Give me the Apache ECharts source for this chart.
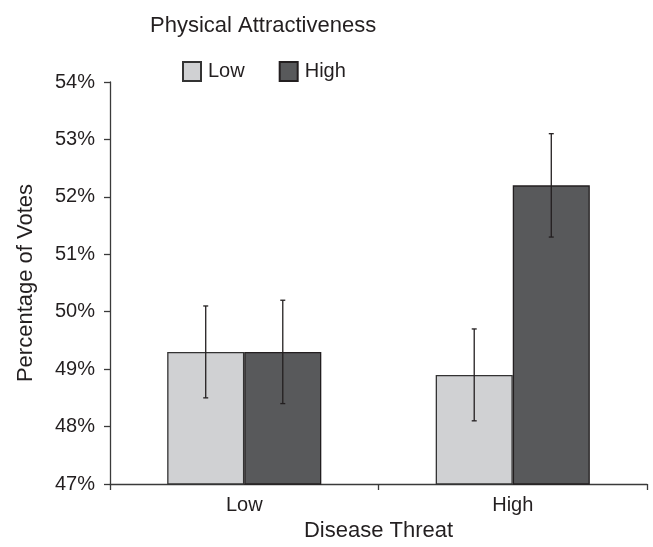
<!DOCTYPE html>
<html>
<head>
<meta charset="utf-8">
<script src="https://cdn.jsdelivr.net/npm/echarts@6/dist/echarts.min.js"></script>
<style>html,body{margin:0;padding:0;background:#fff}#c{width:653px;height:547px}</style>
</head>
<body>
<div id="c"></div>
<script>
var categories = ['Low', 'High'];
var seriesNames = ['Low', 'High'];
var lowValues = [49.3, 48.9];
var highValues = [49.3, 52.2];
var lowErrors = [0.8, 0.8];
var highErrors = [0.9, 0.9];
var yTicks = [47, 48, 49, 50, 51, 52, 53, 54];

var FONT = '"Liberation Sans Narrow", "Liberation Sans", Arial, sans-serif';
var TXT = '#231f20';
var BAR_W = 0.287;

function errData(vals, errs) {
  return vals.map(function (v, i) { return [i, v - errs[i], v + errs[i]]; });
}
function errSeries(vals, errs, side) {
  return {
    type: 'custom',
    silent: true,
    z: 10,
    data: errData(vals, errs),
    encode: { x: 0, y: [1, 2] },
    renderItem: function (params, api) {
      var i = api.value(0);
      var lo = api.coord([i, api.value(1)]);
      var hi = api.coord([i, api.value(2)]);
      var band = api.size([1, 0])[0];
      var x = lo[0] + side * band * BAR_W / 2;
      var cap = 2.5;
      var st = { stroke: TXT, lineWidth: 1.3 };
      return {
        type: 'group',
        children: [
          { type: 'line', shape: { x1: x, y1: lo[1], x2: x, y2: hi[1] }, style: st },
          { type: 'line', shape: { x1: x - cap, y1: lo[1], x2: x + cap, y2: lo[1] }, style: st },
          { type: 'line', shape: { x1: x - cap, y1: hi[1], x2: x + cap, y2: hi[1] }, style: st }
        ]
      };
    }
  };
}

var chart = echarts.init(document.getElementById('c'), null, { renderer: 'canvas' });
chart.setOption({
  animation: false,
  textStyle: { fontFamily: FONT, color: TXT },
  title: {
    text: 'Physical Attractiveness',
    left: 145, top: 10,
    textStyle: { fontFamily: FONT, fontSize: 22, fontWeight: 'normal', color: TXT }
  },
  legend: {
    data: seriesNames,
    left: 182, top: 61, padding: 0,
    itemWidth: 18, itemHeight: 19, itemGap: 34,
    icon: 'rect',
    textStyle: { fontFamily: FONT, fontSize: 20, color: TXT, padding: [0, 0, 0, 2] }
  },
  grid: { left: 110, right: 6, top: 82, bottom: 59, containLabel: false },
  xAxis: {
    type: 'category',
    data: categories,
    name: 'Disease Threat',
    nameLocation: 'middle',
    nameGap: 36,
    nameTextStyle: { fontFamily: FONT, fontSize: 22, color: TXT },
    axisLine: { lineStyle: { color: '#3a3a3a', width: 1.3 } },
    axisTick: { show: true, length: 6, lineStyle: { color: '#3a3a3a', width: 1.3 } },
    axisLabel: { fontFamily: FONT, fontSize: 20, color: TXT, margin: 11 }
  },
  yAxis: {
    type: 'value',
    min: 47, max: 54, interval: 1,
    name: 'Percentage of Votes',
    nameLocation: 'middle',
    nameGap: 73,
    nameTextStyle: { fontFamily: FONT, fontSize: 22, color: TXT },
    axisLine: { show: true, lineStyle: { color: '#3a3a3a', width: 1.3 } },
    axisTick: { show: true, length: 6, lineStyle: { color: '#3a3a3a', width: 1.3 } },
    splitLine: { show: false },
    axisLabel: {
      fontFamily: FONT, fontSize: 20, color: TXT, margin: 15,
      formatter: function (v) { return yTicks.indexOf(v) >= 0 ? v + '%' : ''; }
    }
  },
  series: [
    {
      name: seriesNames[0], type: 'bar', data: lowValues,
      barWidth: (BAR_W * 100) + '%', barGap: '0%',
      itemStyle: { color: '#d0d1d3', borderColor: '#333333', borderWidth: 1.3 }
    },
    {
      name: seriesNames[1], type: 'bar', data: highValues,
      barWidth: (BAR_W * 100) + '%', barGap: '0%',
      itemStyle: { color: '#58595b', borderColor: '#231f20', borderWidth: 1.3 }
    },
    errSeries(lowValues, lowErrors, -1),
    errSeries(highValues, highErrors, 1)
  ]
});
</script>
</body>
</html>
